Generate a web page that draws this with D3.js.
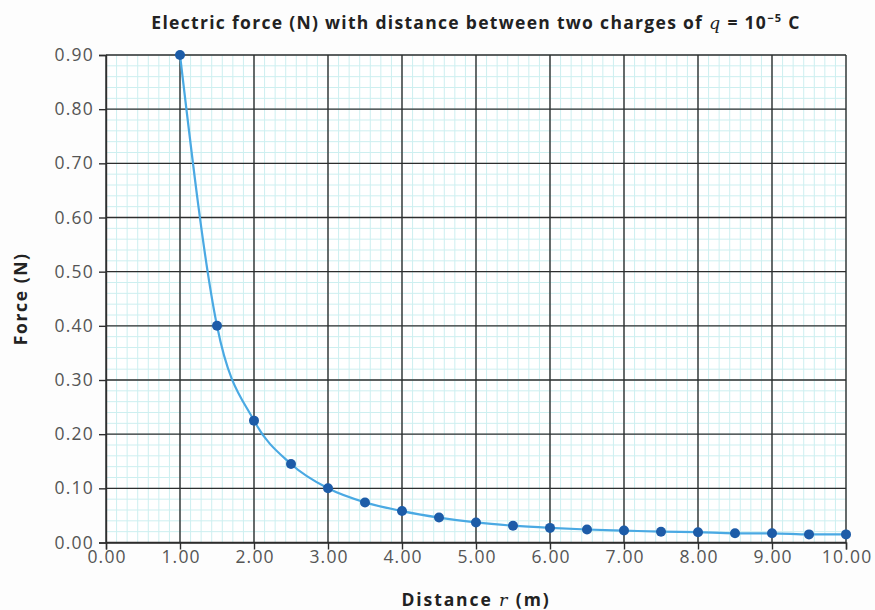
<!DOCTYPE html>
<html>
<head>
<meta charset="utf-8">
<script src="https://cdn.jsdelivr.net/npm/d3@7"></script>
<style>
  html, body { margin: 0; padding: 0; background: #fdfdfd; }
  svg { display: block; }
</style>
</head>
<body>
<svg id="chart" width="875" height="610"></svg>
<script>
// ---- Data ----
const distances = [1.0, 1.5, 2.0, 2.5, 3.0, 3.5, 4.0, 4.5, 5.0, 5.5, 6.0, 6.5, 7.0, 7.5, 8.0, 8.5, 9.0, 9.5, 10.0];
const forces    = [0.900, 0.400, 0.225, 0.145, 0.100, 0.074, 0.058, 0.046, 0.037, 0.031, 0.027, 0.024, 0.022, 0.020, 0.019, 0.017, 0.017, 0.015, 0.015];
const xTicks = [0, 1, 2, 3, 4, 5, 6, 7, 8, 9, 10];
const yTicks = [0, 0.1, 0.2, 0.3, 0.4, 0.5, 0.6, 0.7, 0.8, 0.9];

const svg = d3.select("#chart");

const x = d3.scaleLinear().domain([0, 10]).range([106, 846]);
const y = d3.scaleLinear().domain([0, 0.9]).range([542.5, 55]);

const font = "'Open Sans', 'Noto Sans', sans-serif";

// plot background
svg.append("rect")
  .attr("x", x(0)).attr("y", y(0.9))
  .attr("width", x(10) - x(0)).attr("height", y(0) - y(0.9))
  .attr("fill", "#ffffff");

// minor grid (graph paper)
const minorX = d3.range(0, 10 + 1e-9, 1 / 7);
const minorY = d3.range(0, 0.9 + 1e-9, 0.02);
const gMinor = svg.append("g");
gMinor.selectAll("line.mx").data(minorX).join("line")
  .attr("x1", d => x(d)).attr("x2", d => x(d))
  .attr("y1", y(0)).attr("y2", y(0.9))
  .attr("stroke", "#cdeff0").attr("stroke-width", 1);
gMinor.selectAll("line.my").data(minorY).join("line")
  .attr("y1", d => y(d)).attr("y2", d => y(d))
  .attr("x1", x(0)).attr("x2", x(10))
  .attr("stroke", "#cdeff0").attr("stroke-width", 1);

// major grid
const gMajor = svg.append("g");
gMajor.selectAll("line.gx").data(xTicks).join("line")
  .attr("x1", d => x(d)).attr("x2", d => x(d))
  .attr("y1", y(0)).attr("y2", y(0.9))
  .attr("stroke", "#2e2e2e").attr("stroke-width", 1.4);
gMajor.selectAll("line.gy").data(yTicks).join("line")
  .attr("y1", d => y(d)).attr("y2", d => y(d))
  .attr("x1", x(0)).attr("x2", x(10))
  .attr("stroke", "#2e2e2e").attr("stroke-width", 1.4);

// axes
const xAxis = d3.axisBottom(x).tickValues(xTicks).tickFormat(d3.format(".2f")).tickSizeOuter(0).tickSize(7).tickPadding(1);
const yAxis = d3.axisLeft(y).tickValues(yTicks).tickFormat(d3.format(".2f")).tickSizeOuter(0).tickSize(7).tickPadding(5);

const gx = svg.append("g").attr("transform", `translate(0,${y(0)})`).call(xAxis);
const gy = svg.append("g").attr("transform", `translate(${x(0)},0)`).call(yAxis);
[gx, gy].forEach(g => {
  g.select(".domain").attr("stroke", "#2e2e2e").attr("stroke-width", 1.4);
  g.selectAll(".tick line").attr("stroke", "#2e2e2e").attr("stroke-width", 1.4);
  g.selectAll(".tick text").attr("fill", "#555").attr("font-size", 17.5)
    .attr("font-family", font).attr("letter-spacing", "1.2px");
});
gx.selectAll(".tick text").attr("dx", "0.6px");

// curve
const data = distances.map((d, i) => ({ r: d, f: forces[i] }));
const line = d3.line().x(d => x(d.r)).y(d => y(d.f)).curve(d3.curveMonotoneX);
svg.append("path").datum(data)
  .attr("d", line)
  .attr("fill", "none")
  .attr("stroke", "#4aa9e3")
  .attr("stroke-width", 2.2);

svg.append("g").selectAll("circle").data(data).join("circle")
  .attr("cx", d => x(d.r)).attr("cy", d => y(d.f))
  .attr("r", 5)
  .attr("fill", "#1d5ca8");

// title
const title = svg.append("text")
  .attr("x", 476).attr("y", 29)
  .attr("text-anchor", "middle")
  .attr("font-family", font).attr("font-weight", "bold").attr("font-size", 17.5)
  .attr("letter-spacing", "1.3px")
  .attr("fill", "#222");
title.append("tspan").text("Electric force (N) with distance between two charges of ");
title.append("tspan").attr("font-style", "italic").attr("font-family", "'DejaVu Serif', serif").attr("font-weight", "normal").text("q");
title.append("tspan").text(" = 10");
title.append("tspan").attr("dy", -7).attr("font-size", 11).text("\u22125");
title.append("tspan").attr("dy", 7).text(" C");

// y label
svg.append("text")
  .attr("transform", `translate(27,${(y(0) + y(0.9)) / 2}) rotate(-90)`)
  .attr("text-anchor", "middle")
  .attr("font-family", font).attr("font-weight", "bold").attr("font-size", 17.5)
  .attr("letter-spacing", "1.6px")
  .attr("fill", "#222")
  .text("Force (N)");

// x label
const xl = svg.append("text")
  .attr("x", 476).attr("y", 606)
  .attr("text-anchor", "middle")
  .attr("font-family", font).attr("font-weight", "bold").attr("font-size", 17.5)
  .attr("letter-spacing", "1.9px")
  .attr("fill", "#222");
xl.append("tspan").text("Distance ");
xl.append("tspan").attr("font-style", "italic").attr("font-family", "'DejaVu Serif', serif").attr("font-weight", "normal").text("r");
xl.append("tspan").text(" (m)");
</script>
</body>
</html>
